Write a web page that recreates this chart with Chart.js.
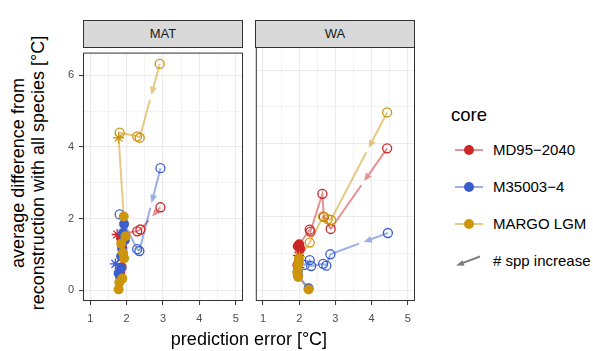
<!DOCTYPE html>
<html>
<head>
<meta charset="utf-8">
<script src="https://cdn.jsdelivr.net/npm/chart.js@4.4.1/dist/chart.umd.min.js"></script>
<style>
  body { margin: 0; width: 593px; height: 351px; background: #fff; position: relative; overflow: hidden;
         font-family: "Liberation Sans", Arial, Helvetica, sans-serif; color: #000; }
  canvas { position: absolute; }
  .strip { position: absolute; top: 20px; height: 28px; width: 160px; box-sizing: border-box;
           background: #d9d9d9; border: 1px solid #333; font-size: 13px; color: #1a1a1a;
           text-align: center; line-height: 26px; }
  .xtitle { position: absolute; left: 83px; width: 332px; top: 330px; text-align: center;
            font-size: 18px; line-height: 18px; }
  .ytitle { position: absolute; left: -122px; top: 153px; width: 300px; height: 40px;
            transform: rotate(-90deg); text-align: center; font-size: 18px; line-height: 20px; }
  .lgtitle { position: absolute; left: 451px; top: 104px; font-size: 18.5px; line-height: 22px; }
  .lglabel { position: absolute; left: 493px; font-size: 15px; line-height: 18px; white-space: nowrap; }
  .kline { position: absolute; left: 455px; width: 28px; height: 2px; }
  .kdot { position: absolute; left: 464px; width: 10px; height: 10px; border-radius: 50%; }
</style>
</head>
<body>
<div class="strip" style="left:83px">MAT</div>
<div class="strip" style="left:255px">WA</div>
<canvas id="matChart" width="199" height="290" style="left:50px; top:41px"></canvas>
<canvas id="waChart" width="171" height="290" style="left:250px; top:41px"></canvas>
<div class="xtitle">prediction error [°C]</div>
<div class="ytitle">average difference from<br>reconstruction with all species [°C]</div>
<div class="lgtitle">core</div>
<div id="legend"></div>
<svg style="position:absolute; left:450px; top:250px" width="36" height="22">
  <line x1="30" y1="6.5" x2="11" y2="13.6" stroke="#7f7f7f" stroke-width="2"/>
  <polygon points="6,15.5 12.5,10.3 14.6,15.8" fill="#7f7f7f"/>
</svg>
<div class="lglabel" style="top:252px"># spp increase</div>
<script>
// tick / grid positions
const xGrid = [1, 1.5, 2, 2.5, 3, 3.5, 4, 4.5, 5];
const yGrid = [0, 1, 2, 3, 4, 5, 6];
const xLimits = [1, 5];

const cores = ['MD95\u22122040', 'M35003\u22124', 'MARGO LGM'];
const coreColors = ['#CD2626', '#3A5FCD', '#CD950C'];
const coreLines = ['rgba(205,38,38,0.5)', 'rgba(58,95,205,0.5)', 'rgba(205,149,12,0.5)'];

// shapes: o = open circle, f = filled circle, * = asterisk
// MAT panel
const matErrRed   = [2.93, 2.38, 2.29, 1.74, 1.85, 1.88, 1.90, 1.86, 1.82];
const matDiffRed  = [2.32, 1.70, 1.65, 1.56, 1.45, 1.20, 0.95, 0.65, 0.50];
const matShapeRed = ['o', 'o', 'o', '*', 'f', 'f', 'f', 'f', 'f'];

const matErrBlue   = [2.93, 2.35, 2.29, 1.81, 1.93, 1.90, 1.95, 1.88, 1.85, 1.69, 1.85, 1.78, 1.82];
const matDiffBlue  = [3.41, 1.10, 1.15, 2.12, 1.85, 1.60, 1.40, 1.15, 0.95, 0.74, 0.62, 0.48, 0.38];
const matShapeBlue = ['o', 'o', 'o', 'o', 'f', 'f', 'f', 'f', 'f', '*', 'f', 'f', 'f'];

const matErrGold   = [2.91, 2.36, 2.29, 1.81, 1.78, 1.92, 1.97, 1.85, 1.90, 1.93, 1.88, 1.80, 1.78];
const matDiffGold  = [6.32, 4.26, 4.30, 4.40, 4.26, 2.06, 1.51, 1.30, 1.05, 0.90, 0.33, 0.22, 0.03];
const matShapeGold = ['o', 'o', 'o', 'o', '*', 'f', 'f', 'f', 'f', 'f', 'f', 'f', 'f'];

// WA panel
const waErrRed   = [4.43, 2.87, 2.68, 2.64, 2.31, 2.29, 2.00, 1.96, 2.03, 1.98, 1.95];
const waDiffRed  = [3.87, 1.67, 2.00, 2.63, 1.60, 1.65, 1.25, 1.20, 1.13, 0.95, 0.68];
const waShapeRed = ['o', 'o', 'o', 'o', 'o', 'o', 'f', 'f', 'f', '*', 'f'];

const waErrBlue   = [4.45, 2.86, 2.75, 2.66, 2.33, 2.29, 2.15, 1.98, 1.99, 1.96, 1.97, 2.26];
const waDiffBlue  = [1.56, 0.98, 0.67, 0.72, 0.66, 0.82, 0.69, 0.75, 0.62, 0.52, 0.40, 0.05];
const waShapeBlue = ['o', 'o', 'o', 'o', 'o', 'o', 'o', 'f', '*', 'f', 'f', 'f'];

const waErrGold   = [4.43, 2.88, 2.79, 2.66, 2.29, 2.01, 1.99, 1.97, 1.96, 1.95, 1.97, 2.26];
const waDiffGold  = [4.85, 1.92, 1.94, 2.01, 1.30, 0.91, 0.85, 0.70, 0.58, 0.47, 0.36, 0.02];
const waShapeGold = ['o', 'o', 'o', 'o', 'o', '*', 'f', 'f', 'f', 'f', 'f', 'f'];

// legend keys
const legendRows = [150, 187, 224];
const legendEl = document.getElementById('legend');
cores.forEach((name, i) => {
    const y = legendRows[i];
    legendEl.innerHTML +=
        `<div class="kline" style="top:${y - 1}px;background:${coreLines[i]}"></div>` +
        `<div class="kdot" style="top:${y - 5}px;background:${coreColors[i]}"></div>` +
        `<div class="lglabel" style="top:${y - 9}px">${name}</div>`;
});

// shared y range (ggplot style 5% expansion)
const allDiffs = [].concat(matDiffRed, matDiffBlue, matDiffGold, waDiffRed, waDiffBlue, waDiffGold);
const yLo = Math.min(...allDiffs), yHi = Math.max(...allDiffs);
const yPad = (yHi - yLo) * 0.05;
const xPad = (xLimits[1] - xLimits[0]) * 0.05;

const toXY = (xs, ys) => xs.map((v, i) => ({ x: v, y: ys[i] }));

// first segment of each path: arrow pointing along increasing # spp, with a small gap after the head
const arrowPlugin = {
    id: 'sppArrow',
    beforeDatasetsDraw(chart) {
        const { ctx, scales: { x, y } } = chart;
        chart.data.datasets.forEach(ds => {
            if (!ds.arrowColor) return;
            const x0 = x.getPixelForValue(ds.data[0].x), y0 = y.getPixelForValue(ds.data[0].y);
            const x1 = x.getPixelForValue(ds.data[1].x), y1 = y.getPixelForValue(ds.data[1].y);
            const len = Math.hypot(x1 - x0, y1 - y0);
            const ux = (x1 - x0) / len, uy = (y1 - y0) / len;
            const tip = Math.min(0.42 * len, 40), head = 8, halfW = 3.5, gap = 5;
            const bx = x0 + ux * (tip - head), by = y0 + uy * (tip - head);
            ctx.save();
            ctx.strokeStyle = ds.arrowColor;
            ctx.fillStyle = ds.arrowColor;
            ctx.lineWidth = 2;
            ctx.beginPath();
            ctx.moveTo(x0, y0);
            ctx.lineTo(bx, by);
            ctx.stroke();
            ctx.beginPath();
            ctx.moveTo(x0 + ux * tip, y0 + uy * tip);
            ctx.lineTo(bx - uy * halfW, by + ux * halfW);
            ctx.lineTo(bx + uy * halfW, by - ux * halfW);
            ctx.closePath();
            ctx.fill();
            ctx.beginPath();
            ctx.moveTo(x0 + ux * (tip + gap), y0 + uy * (tip + gap));
            ctx.lineTo(x1, y1);
            ctx.stroke();
            ctx.restore();
        });
    }
};

// panel border (theme_bw)
const borderPlugin = {
    id: 'panelBorder',
    afterDraw(chart) {
        const { ctx, chartArea: a } = chart;
        ctx.save();
        ctx.strokeStyle = '#333';
        ctx.lineWidth = 1;
        ctx.strokeRect(a.left + 0.5, a.top + 0.5, a.right - a.left - 1, a.bottom - a.top - 1);
        ctx.restore();
    }
};

function makePanel(canvasId, series, showYLabels) {
    const datasets = [];
    series.forEach((s, k) => {
        datasets.push({
            data: toXY(s.err, s.diff),
            borderColor: coreLines[k],
            borderWidth: 2,
            pointRadius: 0,
            showLine: true,
            arrowColor: coreLines[k],
            segment: { borderColor: c => c.p0DataIndex === 0 ? 'rgba(0,0,0,0)' : coreLines[k] },
            order: 10
        });
    });
    series.forEach((s, k) => {
        datasets.push({
            data: toXY(s.err, s.diff),
            showLine: false,
            pointStyle: c => s.shape[c.dataIndex] === '*' ? 'star' : 'circle',
            pointRadius: c => s.shape[c.dataIndex] === 'f' ? 5 : (s.shape[c.dataIndex] === '*' ? 5.5 : 4.5),
            pointBorderWidth: c => s.shape[c.dataIndex] === 'f' ? 0 : 1.3,
            pointBorderColor: coreColors[k],
            pointBackgroundColor: c => s.shape[c.dataIndex] === 'f' ? coreColors[k] : 'rgba(0,0,0,0)',
            order: 3 - k
        });
    });

    new Chart(document.getElementById(canvasId), {
        type: 'line',
        data: { datasets },
        plugins: [arrowPlugin, borderPlugin],
        options: {
            responsive: false,
            animation: false,
            events: [],
            devicePixelRatio: 1,
            layout: { padding: { top: 6, right: 6, left: showYLabels ? 0 : 5, bottom: 0 } },
            plugins: { legend: { display: false }, tooltip: { enabled: false } },
            scales: {
                x: {
                    type: 'linear',
                    min: xLimits[0] - xPad,
                    max: xLimits[1] + xPad,
                    afterBuildTicks: sc => { sc.ticks = xGrid.map(v => ({ value: v })); },
                    afterFit: sc => { sc.height = 30; },
                    border: { display: false },
                    grid: {
                        color: '#ebebeb',
                        lineWidth: c => (c.tick && Number.isInteger(c.tick.value)) ? 1.1 : 0.6,
                        tickLength: 4,
                        tickWidth: 1,
                        tickColor: c => (c.tick && Number.isInteger(c.tick.value)) ? '#333' : 'rgba(0,0,0,0)'
                    },
                    ticks: {
                        autoSkip: false,
                        maxRotation: 0,
                        padding: 7,
                        color: '#4d4d4d',
                        font: { family: '"Liberation Sans", Arial, sans-serif', size: 11 },
                        callback: v => Number.isInteger(v) ? String(v) : ''
                    }
                },
                y: {
                    type: 'linear',
                    min: yLo - yPad,
                    max: yHi + yPad,
                    afterBuildTicks: sc => { sc.ticks = yGrid.map(v => ({ value: v })); },
                    afterFit: sc => { sc.width = showYLabels ? 33 : 0; },
                    border: { display: false },
                    grid: {
                        color: '#ebebeb',
                        lineWidth: c => (c.tick && c.tick.value % 2 === 0) ? 1.1 : 0.6,
                        drawTicks: showYLabels,
                        tickLength: 4,
                        tickWidth: 1,
                        tickColor: c => (c.tick && c.tick.value % 2 === 0) ? '#333' : 'rgba(0,0,0,0)'
                    },
                    ticks: {
                        display: showYLabels,
                        autoSkip: false,
                        padding: 5,
                        color: '#4d4d4d',
                        font: { family: '"Liberation Sans", Arial, sans-serif', size: 11 },
                        callback: v => v % 2 === 0 ? String(v) : ''
                    }
                }
            }
        }
    });
}

makePanel('matChart', [
    { err: matErrRed, diff: matDiffRed, shape: matShapeRed },
    { err: matErrBlue, diff: matDiffBlue, shape: matShapeBlue },
    { err: matErrGold, diff: matDiffGold, shape: matShapeGold }
], true);

makePanel('waChart', [
    { err: waErrRed, diff: waDiffRed, shape: waShapeRed },
    { err: waErrBlue, diff: waDiffBlue, shape: waShapeBlue },
    { err: waErrGold, diff: waDiffGold, shape: waShapeGold }
], false);
</script>
</body>
</html>
